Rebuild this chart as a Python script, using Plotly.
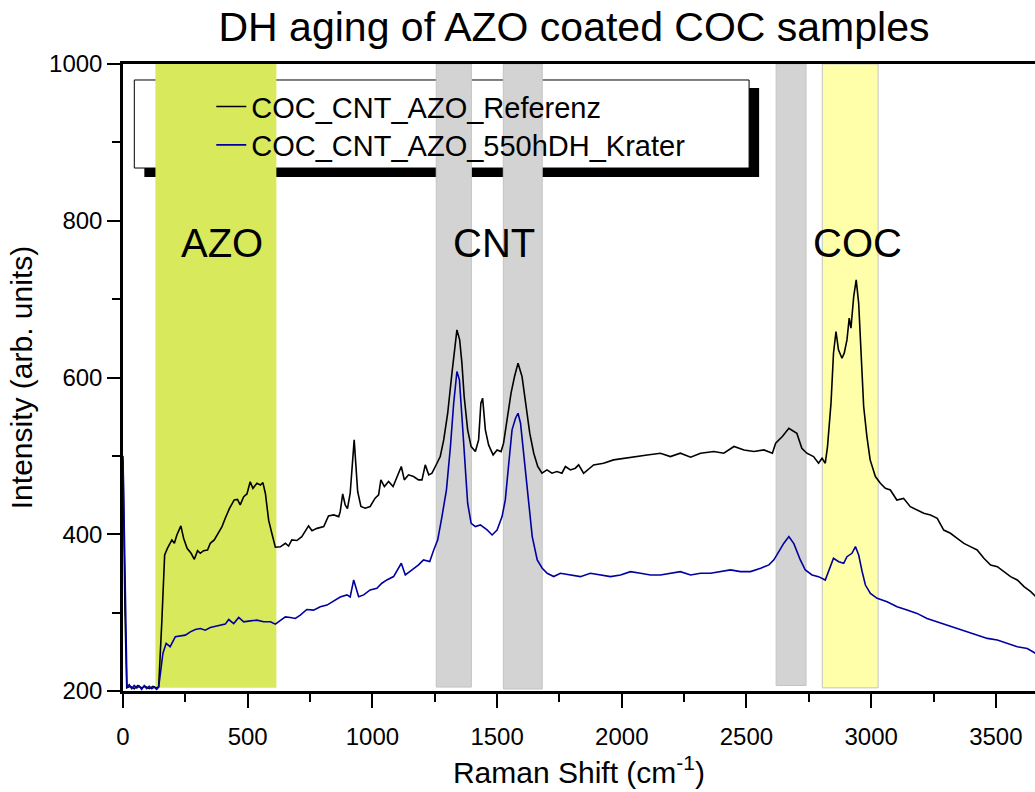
import plotly.graph_objects as go

# ---------------- data ----------------
ref_x = [0, 8, 15, 30, 45, 60, 75, 90, 105, 120, 135, 143, 156, 167, 178, 196, 206, 216, 232, 243,
         257, 273, 286, 299, 310, 323, 339, 350, 366, 380, 397, 410, 427, 446, 459, 470, 484, 497,
         510, 521, 537, 551, 561, 571, 584, 597, 611, 631, 651, 664, 677, 697, 717, 744, 758, 778,
         805, 824, 845, 865, 871, 881, 891, 900, 911, 927, 941, 954, 971, 991, 1011, 1025, 1034,
         1048, 1065, 1083, 1099, 1116, 1128, 1145, 1165, 1185, 1199, 1212, 1226, 1239, 1259, 1272,
         1286, 1302, 1319, 1330, 1339, 1350, 1359, 1368, 1382, 1396, 1413, 1426, 1435, 1442, 1453,
         1466, 1484, 1500, 1516, 1526, 1540, 1556, 1570, 1584, 1600, 1616, 1631, 1647, 1663, 1680,
         1700, 1720, 1740, 1760, 1774, 1794, 1814, 1827, 1847, 1887, 1927, 1967, 2008, 2048, 2102,
         2155, 2195, 2235, 2276, 2316, 2369, 2409, 2450, 2490, 2530, 2570, 2604, 2617, 2644, 2670,
         2690, 2702, 2722, 2742, 2769, 2789, 2803, 2816, 2825, 2839, 2849, 2859, 2869, 2883, 2892,
         2903, 2912, 2919, 2930, 2940, 2950, 2959, 2970, 2983, 2996, 3017, 3037, 3057, 3077, 3103,
         3130, 3157, 3184, 3211, 3238, 3265, 3291, 3318, 3345, 3372, 3398, 3425, 3452, 3479, 3506,
         3532, 3559, 3586, 3613, 3640, 3660, 3700]
ref_y = [495, 300, 204, 206, 203, 207, 204, 206, 203, 206, 204, 205.5, 290.6, 373.6, 382, 392.7, 388.5,
         399, 410.6, 395, 382, 375.7, 368, 379, 375.7, 379, 380, 388.5, 392.7, 401, 409.7, 420.4, 433,
         443.8, 444.5, 437.5, 448, 451.4, 467, 458.6, 465, 462.8, 465.8, 452, 418, 401, 383.4, 384,
         388.5, 385, 392.7, 392, 397, 410.6, 404.6, 407.5, 409.7, 423.4, 424.7, 422.5, 428.8, 451.4,
         437.5, 432.7, 452.3, 520.4, 454.5, 435.4, 433.3, 435.4, 446, 450.3, 469.4, 460.9, 467.3,
         460.9, 473.6, 486.4, 469.4, 475.8, 473.6, 469.4, 469.4, 488.5, 475.8, 477.9, 490.6, 499.1,
         520.4, 554.4, 605.5, 639.5, 660.8, 648, 618.3, 575.7, 533.2, 511.9, 505.5, 520.4, 567.2,
         573.6, 533.2, 514, 501.2, 507.6, 505.5, 516.2, 545.9, 580, 601.3, 618.3, 601.3, 563, 529,
         503.4, 486.4, 477.9, 482.1, 477.9, 480, 477.9, 486.4, 482.1, 484.3, 488.5, 477.8, 488.5,
         490.6, 494.9, 497, 499.1, 501.2, 503.4, 499.1, 503.4, 498.3, 503.4, 505.5, 503.4, 512,
         507.6, 505.5, 507.6, 503.4, 516.2, 524.7, 535.3, 531, 528.8, 509.7, 503.4, 499.1, 490.6,
         497, 490.6, 511.9, 567.2, 631, 658.7, 635.3, 624.6, 631, 648, 675.7, 662.9, 703.3, 724.6,
         694.8, 635.3, 563, 524.6, 494.9, 473.6, 465, 458.6, 456.5, 443.7, 445.8, 435.2, 431, 426.7,
         424.5, 420.3, 405.4, 401.2, 394.8, 388.4, 384.2, 379.9, 369.3, 360.8, 358.6, 352.2, 345.9,
         341.6, 333.1, 326.7, 320.4, 312]

krater_x = [0, 6, 12, 16, 25, 35, 45, 55, 65, 75, 85, 95, 105, 115, 125, 135, 143, 150, 160, 173, 189,
            210, 230, 250, 270, 290, 310, 330, 350, 370, 391, 410, 424, 444, 464, 484, 510, 537, 564,
            591, 611, 631, 651, 671, 691, 711, 737, 764, 791, 818, 838, 871, 898, 911, 925, 945, 965,
            991, 1018, 1038, 1058, 1085, 1116, 1132, 1159, 1185, 1205, 1230, 1246, 1262, 1279, 1297,
            1313, 1326, 1339, 1349, 1359, 1370, 1382, 1396, 1413, 1433, 1460, 1480, 1500, 1520, 1533,
            1547, 1560, 1574, 1584, 1594, 1607, 1623, 1641, 1661, 1681, 1701, 1727, 1754, 1788, 1821,
            1834, 1874, 1914, 1955, 1995, 2035, 2075, 2115, 2155, 2195, 2235, 2276, 2316, 2356, 2396,
            2436, 2476, 2516, 2557, 2590, 2610, 2630, 2650, 2670, 2690, 2716, 2736, 2763, 2789, 2816,
            2829, 2849, 2870, 2890, 2903, 2923, 2937, 2950, 2964, 2977, 2997, 3024, 3064, 3104, 3144,
            3184, 3224, 3265, 3305, 3345, 3385, 3425, 3466, 3506, 3546, 3586, 3626, 3660, 3700]
krater_y = [500, 380, 230, 205, 208, 203, 207, 204, 206, 202, 207, 203, 206, 203, 205, 202, 205,
            222.6, 248, 260.8, 256.5, 269.3, 270, 271.3, 275.5, 278.5, 279.8, 277.6, 281, 282.7, 284,
            285.3, 291.2, 286, 293.8, 288.3, 289.5, 290.4, 288.3, 288.3, 285.3, 290.4, 294.6, 293.8,
            292.5, 296.8, 304, 303.2, 307.5, 309.6, 313.8, 320, 322.6, 320, 341.7, 320.4, 322.6, 329,
            331.1, 337.5, 341.7, 346, 363, 348.1, 354.5, 360.9, 367.3, 365.2, 380, 392.8, 422.6, 456.6,
            511.9, 567.2, 607.6, 597, 550.2, 494.9, 439.6, 414, 409.8, 411.9, 405.5, 399.1, 405.5,
            422.6, 443.8, 490.6, 533.2, 548.1, 554.4, 541.7, 499.1, 448, 397, 367.3, 356.6, 350.2,
            346, 350.2, 348.1, 346, 345.9, 350.2, 348, 345.9, 348, 352.3, 350.2, 348, 348, 350.2,
            352.3, 348, 350.2, 350.2, 352.3, 354.5, 352.3, 352.3, 356.6, 360.9, 367.3, 377.9, 388.6,
            397.1, 388, 367.2, 354.4, 348.1, 345.9, 341.6, 352.2, 369.3, 365, 362.9, 371.4, 375.7,
            384.2, 373.5, 352.2, 335.2, 324.6, 318.2, 313.9, 307.5, 303.3, 299, 292.6, 288.4, 284.1,
            279.8, 275.6, 271.3, 267.1, 265, 260.7, 256.5, 254.3, 247.9, 242]

# shaded bands: start, end (cm-1), bottom (intensity)
band_start = [130, 1256, 1525, 2619, 2804]
band_end = [615, 1397, 1681, 2739, 3028]
band_bottom = [204, 205, 202.5, 207, 204]
band_kind = ["azo", "cnt", "cnt", "cnt", "coc"]

label_text = ["AZO", "CNT", "COC"]
label_x = [396, 1487, 2946]
label_y = [772, 772, 772]

# ---------------- figure ----------------
FONT = "Liberation Sans, Arial, Helvetica, sans-serif"
fill_map = {"azo": "#D8EA5C", "cnt": "#D3D3D3", "coc": "#FFFFAA"}
edge_map = {"azo": "rgba(0,0,0,0)", "cnt": "#C4C4C4", "coc": "#C4C4C4"}

fig = go.Figure()
fig.add_trace(go.Scatter(x=ref_x, y=ref_y, mode="lines", name="COC_CNT_AZO_Referenz",
                         line=dict(color="#000000", width=1.6), legend="legend"))
fig.add_trace(go.Scatter(x=krater_x, y=krater_y, mode="lines", name="COC_CNT_AZO_550hDH_Krater",
                         line=dict(color="#0000A0", width=1.6), legend="legend2"))

shapes = []
for x0, x1, y0, kind in zip(band_start, band_end, band_bottom, band_kind):
    shapes.append(dict(type="rect", xref="x", yref="y", x0=x0, x1=x1, y0=y0, y1=1000,
                       fillcolor=fill_map[kind], line=dict(color=edge_map[kind], width=1),
                       layer="below"))

# legend frame with drop shadow (paper coordinates)
shapes.append(dict(type="rect", xref="paper", yref="paper", x0=0.0234, x1=0.6975, y0=0.8198, y1=0.9617,
                   fillcolor="black", line=dict(width=0), layer="below"))
shapes.append(dict(type="rect", xref="paper", yref="paper", x0=0.0124, x1=0.6865, y0=0.8341, y1=0.9745,
                   fillcolor="white", line=dict(color="black", width=1), layer="below"))

annotations = [dict(x=lx, y=ly, xref="x", yref="y", text=t, showarrow=False,
                    font=dict(family=FONT, size=40, color="black"))
               for t, lx, ly in zip(label_text, label_x, label_y)]

legend_style = dict(xanchor="left", yanchor="middle", bgcolor="rgba(0,0,0,0)", borderwidth=0,
                    font=dict(family=FONT, size=29, color="black"))

fig.update_layout(
    width=1035, height=792,
    margin=dict(l=123, r=0, t=64, b=101, pad=0),
    paper_bgcolor="white", plot_bgcolor="white",
    font=dict(family=FONT, color="black"),
    title=dict(text="DH aging of AZO coated COC samples", x=0.5546, xref="container", xanchor="center",
               y=0.966, yref="container", yanchor="middle", font=dict(family=FONT, size=41, color="black")),
    shapes=shapes,
    annotations=annotations,
    showlegend=True,
    legend=dict(x=0.0968, y=0.9319, **legend_style),
    legend2=dict(x=0.0968, y=0.8708, **legend_style),
    xaxis=dict(range=[0, 3657], showline=True, linecolor="black", linewidth=2.5, mirror=True,
               ticks="outside", ticklen=14, tickwidth=2, tickcolor="black", tick0=0, dtick=500,
               tickfont=dict(family=FONT, size=24, color="black"), showgrid=False, zeroline=False,
               ticklabelstandoff=8,
               minor=dict(ticks="outside", ticklen=8, tickwidth=2, tickcolor="black", tick0=0, dtick=250,
                          showgrid=False),
               title=dict(text="Raman Shift (cm<sup>-1</sup>)", standoff=14,
                          font=dict(family=FONT, size=30, color="black"))),
    yaxis=dict(range=[200, 1000], showline=True, linecolor="black", linewidth=2.5, mirror=False,
               ticks="outside", ticklen=13, tickwidth=2, tickcolor="black", tick0=200, dtick=200,
               tickfont=dict(family=FONT, size=24, color="black"), showgrid=False, zeroline=False,
               ticklabelstandoff=0,
               minor=dict(ticks="outside", ticklen=8, tickwidth=2, tickcolor="black", tick0=200, dtick=100,
                          showgrid=False),
               title=dict(text="Intensity (arb. units)", standoff=8,
                          font=dict(family=FONT, size=30, color="black"))),
)

fig.write_html("out.html")
